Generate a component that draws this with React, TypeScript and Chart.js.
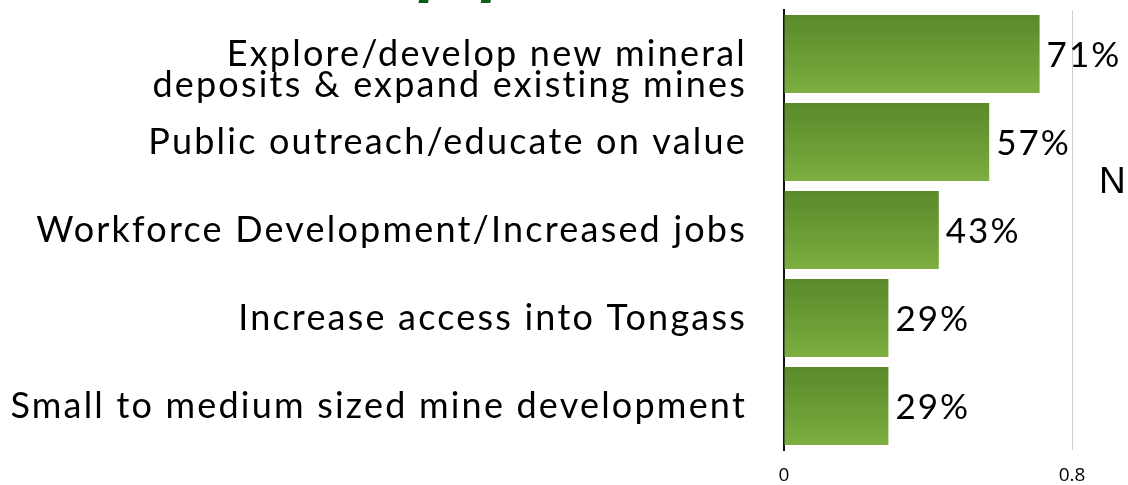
import { useEffect, useRef } from 'react';
import { Chart, registerables } from 'chart.js';

Chart.register(...registerables);

const categories: (string | string[])[] = [
  ['', 'Explore/develop new mineral', 'deposits & expand existing mines'],
  'Public outreach/educate on value',
  'Workforce Development/Increased jobs',
  'Increase access into Tongass',
  'Small to medium sized mine development',
];
const values = [0.71, 0.57, 0.43, 0.29, 0.29];
const valueLabels = ['71%', '57%', '43%', '29%', '29%'];
const xTicks = [0, 0.8];
const titleText = 'Top priorities';
const sideText = 'N';

const FONT = 'Lato';
const BAR_PCT = 0.886;

export default function App() {
  const ref = useRef<HTMLCanvasElement | null>(null);

  useEffect(() => {
    document.body.style.margin = '0';
    const canvas = ref.current;
    if (!canvas) return;

    const spacingPlugin = {
      id: 'spacing',
      beforeDraw(chart: any) {
        chart.ctx.letterSpacing = '2.2px';
      },
      beforeDatasetsDraw(chart: any) {
        chart.ctx.letterSpacing = '0px';
      },
    };

    const valuePlugin = {
      id: 'valueLabels',
      afterDatasetsDraw(chart: any) {
        const ctx = chart.ctx;
        const meta = chart.getDatasetMeta(0);
        ctx.save();
        ctx.letterSpacing = '2px';
        ctx.font = `35px ${FONT}`;
        ctx.fillStyle = '#000';
        ctx.textAlign = 'left';
        ctx.textBaseline = 'alphabetic';
        meta.data.forEach((el: any, i: number) => {
          ctx.fillText(valueLabels[i], el.x + 7, el.y + 12.5);
        });
        ctx.restore();
      },
    };

    const extraText = {
      id: 'extraText',
      afterDraw(chart: any) {
        const ctx = chart.ctx;
        ctx.save();
        ctx.letterSpacing = '0px';
        ctx.font = 'italic bold 70px "Liberation Sans"';
        ctx.fillStyle = '#0B5E17';
        ctx.textBaseline = 'alphabetic';
        ctx.textAlign = 'left';
        const pre = ctx.measureText('To').width;
        ctx.fillText(titleText, 420 - pre, -12);
        ctx.font = '37px "Liberation Sans"';
        ctx.fillStyle = '#000';
        ctx.textBaseline = 'middle';
        const area = chart.chartArea;
        ctx.fillText(sideText, area.right + 27, 183);
        ctx.restore();
      },
    };

    const chart = new Chart(canvas, {
      type: 'bar',
      data: {
        labels: categories,
        datasets: [
          {
            data: values,
            backgroundColor: (c: any) => {
              const ch = c.chart;
              const ys = ch.scales && ch.scales.y;
              if (!ys || c.dataIndex == null) return '#6B9C35';
              const center = ys.getPixelForValue(c.dataIndex);
              const h = (ys.height / categories.length) * BAR_PCT;
              if (!isFinite(center) || !isFinite(h) || h <= 0) return '#6B9C35';
              const g = ch.ctx.createLinearGradient(0, center - h / 2, 0, center + h / 2);
              g.addColorStop(0, '#5A892A');
              g.addColorStop(1, '#7CAE40');
              return g;
            },
            borderWidth: 0,
            barPercentage: BAR_PCT,
            categoryPercentage: 1,
          },
        ],
      },
      options: {
        indexAxis: 'y',
        animation: false,
        responsive: false,
        maintainAspectRatio: false,
        layout: { padding: { left: 0, top: 10, right: 56, bottom: 0 } },
        plugins: {
          legend: { display: false },
          tooltip: { enabled: false },
          title: { display: false },
        },
        scales: {
          x: {
            min: 0,
            max: 0.8,
            afterBuildTicks: (s: any) => {
              s.ticks = xTicks.map((v) => ({ value: v }));
            },
            afterFit: (s: any) => {
              s.height = 35;
              s.paddingLeft = 0;
              s.paddingRight = 0;
            },
            ticks: {
              color: '#000',
              font: { family: 'Open Sans', size: 19 },
              padding: 14,
              z: 1,
              callback: (v: any) => String(v),
            },
            grid: {
              drawTicks: false,
              color: (c: any) => (c.tick && c.tick.value === 0 ? 'rgba(0,0,0,0)' : '#CFCFCF'),
              lineWidth: 1,
            },
            border: { display: false },
          },
          y: {
            afterFit: (s: any) => {
              s.width = 784;
              s.paddingTop = 0;
              s.paddingBottom = 0;
            },
            ticks: {
              color: '#000',
              font: { family: FONT, size: 36, lineHeight: 0.87 },
              padding: 37,
              autoSkip: false,
            },
            grid: { display: false, drawTicks: false },
            border: { display: true, color: '#111', width: 2 },
          },
        },
      },
      plugins: [spacingPlugin, valuePlugin, extraText],
    });

    return () => chart.destroy();
  }, []);

  return (
    <div style={{ width: 1128, height: 485, background: '#fff' }}>
      <canvas ref={ref} width={1128} height={485} style={{ display: 'block' }} />
    </div>
  );
}
